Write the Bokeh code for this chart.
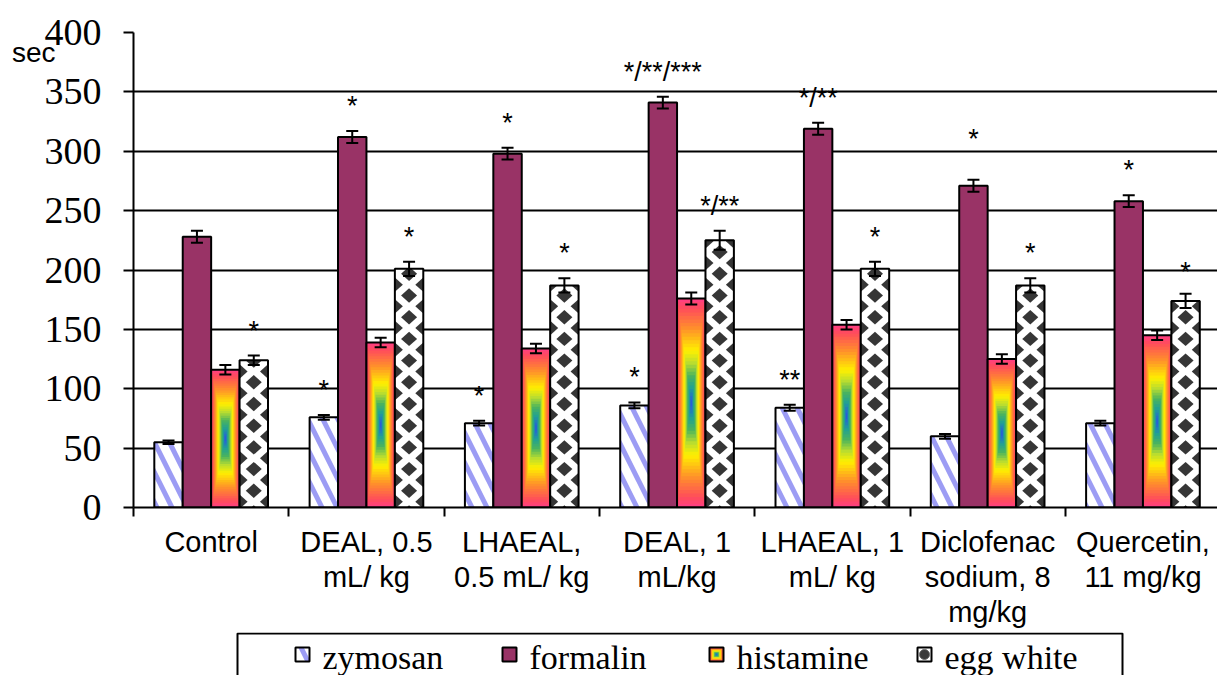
import numpy as np
from bokeh.plotting import figure
from bokeh.layouts import column
from bokeh.models import (ColumnDataSource, Range1d, FixedTicker, Whisker, TeeHead, LinearAxis)
from bokeh.core.properties import value
from bokeh.embed import file_html
from bokeh.resources import INLINE

# ---------------- data ----------------
categories = ["Control", "DEAL, 0.5\nmL/ kg", "LHAEAL,\n0.5 mL/ kg", "DEAL, 1\nmL/kg",
              "LHAEAL, 1\nmL/ kg", "Diclofenac\nsodium, 8\nmg/kg", "Quercetin,\n11 mg/kg"]
series_names = ["zymosan", "formalin", "histamine", "egg white"]
zymosan = [55, 76, 71, 86, 84, 60, 71]
formalin = [228, 312, 298, 341, 319, 271, 258]
histamine = [116, 139, 134, 176, 154, 125, 145]
egg_white = [124, 201, 187, 225, 201, 187, 174]
zymosan_err = [1.5, 2, 2, 2.5, 2.5, 2, 2]
formalin_err = [5, 5, 5, 5, 5, 5, 5]
histamine_err = [4, 4, 4, 5, 4, 4, 4]
egg_white_err = [4, 6, 6, 8, 6, 6, 6]
zymosan_sig = ["", "*", "*", "*", "**", "", ""]
formalin_sig = ["", "*", "*", "*/**/***", "*/**", "*", "*"]
histamine_sig = ["", "", "", "", "", "", ""]
egg_white_sig = ["*", "*", "*", "*/**", "*", "*", "*"]
y_ticks = [0, 50, 100, 150, 200, 250, 300, 350, 400]
y_unit = "sec"

# ---------------- style / layout constants ----------------
W, H_MAIN, H_LEG = 1217, 632, 43
LEFT, TOP, BOTTOM = 133, 32, 125
CAT_PX = 155.3
PX_X = CAT_PX
PX_Y = (H_MAIN - TOP - BOTTOM) / 400.0
n = len(categories)
BW = 0.183
centers = np.arange(n) + 0.5
offsets = [-1.5 * BW, -0.5 * BW, 0.5 * BW, 1.5 * BW]
values = [zymosan, formalin, histamine, egg_white]
errs = [zymosan_err, formalin_err, histamine_err, egg_white_err]
sigs = [zymosan_sig, formalin_sig, histamine_sig, egg_white_sig]
xs = [list(centers + o) for o in offsets]
SIG_GAP = 21          # gap (y units) between error-bar top and mark
SIG_EXTRA = {(1, 5): 13, (3, 6): -3}   # hand-placed marks in the original (series, category)

FORMALIN_C = "#993366"
ZYM_HATCH = dict(hatch_pattern="\\", hatch_color="#9c9cf4", hatch_scale=30, hatch_weight=5)
EGG_DOT = "#363636"

# rectangular "from centre" gradient used for histamine
stop_t = [0.0, 0.10, 0.30, 0.50, 0.62, 0.74, 0.86, 1.0]
stop_c = ["#ff3d86", "#ff4d5a", "#ff9428", "#fff000", "#b8dc30", "#4cb45c", "#1fa096", "#2a50e8"]


def _rgb(h):
    return np.array([int(h[i:i + 2], 16) for i in (1, 3, 5)], dtype=float)


def grad_color(t):
    for j in range(len(stop_t) - 1):
        if stop_t[j] <= t <= stop_t[j + 1]:
            f = (t - stop_t[j]) / (stop_t[j + 1] - stop_t[j])
            c = _rgb(stop_c[j]) * (1 - f) + _rgb(stop_c[j + 1]) * f
            return "#%02x%02x%02x" % tuple(int(round(v)) for v in c)
    return stop_c[-1]


NL = 30


def gradient_quads(rects):
    """rects: list of (x0, x1, y0, y1); returns nested quads, outer first."""
    out = dict(l=[], r=[], t=[], b=[], c=[])
    for k in range(NL):
        t = k / NL
        col = grad_color(t + 0.5 / NL)
        for (x0, x1, y0, y1) in rects:
            dx = (x1 - x0) / 2 * t
            dy = (y1 - y0) / 2 * t
            out["l"].append(x0 + dx)
            out["r"].append(x1 - dx)
            out["b"].append(y0 + dy)
            out["t"].append(y1 - dy)
            out["c"].append(col)
    return out


def _clip_edge(pts, axis, bound, keep_greater):
    out = []
    m = len(pts)
    for i in range(m):
        cur, prev = pts[i], pts[i - 1]
        cin = cur[axis] >= bound if keep_greater else cur[axis] <= bound
        pin = prev[axis] >= bound if keep_greater else prev[axis] <= bound
        if cin != pin:
            tt = (bound - prev[axis]) / (cur[axis] - prev[axis])
            out.append((prev[0] + tt * (cur[0] - prev[0]), prev[1] + tt * (cur[1] - prev[1])))
        if cin:
            out.append(cur)
    return out


def clip_rect(pts, x0, x1, y0, y1):
    for axis, bound, kg in ((0, x0, True), (0, x1, False), (1, y0, True), (1, y1, False)):
        pts = _clip_edge(pts, axis, bound, kg)
        if not pts:
            return []
    return pts


# ---------------- main figure ----------------
p = figure(width=W, height=H_MAIN, x_range=Range1d(0, (W - LEFT) / CAT_PX), y_range=Range1d(0, 400),
           output_backend="svg", toolbar_location=None, title=None,
           min_border_left=LEFT, min_border_right=0, min_border_top=TOP, min_border_bottom=BOTTOM)
p.outline_line_color = None
p.xgrid.visible = False
p.ygrid.ticker = FixedTicker(ticks=y_ticks)
p.ygrid.grid_line_color = "black"
p.ygrid.grid_line_width = 2

p.yaxis.ticker = FixedTicker(ticks=y_ticks)
p.yaxis.major_label_text_font = "Liberation Serif"
p.yaxis.major_label_text_font_size = "38px"
p.yaxis.major_label_text_color = "black"
p.yaxis.major_tick_out = 10
p.yaxis.major_tick_in = 0
p.yaxis.major_tick_line_width = 2
p.yaxis.minor_tick_line_color = None
p.yaxis.axis_line_width = 2
p.yaxis.major_label_standoff = 22

p.xaxis.ticker = FixedTicker(ticks=[float(c) for c in centers], minor_ticks=list(range(n + 1)))
p.xaxis.major_label_overrides = {float(c): lab for c, lab in zip(centers, categories)}
p.xaxis.major_tick_line_color = None
p.xaxis.major_tick_out = 0
p.xaxis.major_tick_in = 0
p.xaxis.minor_tick_line_color = "black"
p.xaxis.minor_tick_line_width = 2
p.xaxis.minor_tick_out = 9
p.xaxis.minor_tick_in = 0
p.xaxis.axis_line_width = 2
p.xaxis.major_label_text_font = "Liberation Sans"
p.xaxis.major_label_text_font_size = "29px"
p.xaxis.major_label_text_line_height = 1.1
p.xaxis.major_label_text_color = "black"
p.xaxis.major_label_standoff = 9

# unit label "sec" as an extra (tick-only) axis on the left
sec_tick = 383
sec_axis = LinearAxis(ticker=FixedTicker(ticks=[sec_tick]), major_label_overrides={sec_tick: y_unit},
                      axis_line_color=None, major_tick_line_color=None, minor_tick_line_color=None,
                      major_tick_out=0, major_tick_in=0, major_label_standoff=-14,
                      major_label_text_font="Liberation Sans", major_label_text_font_size="28px",
                      major_label_text_color="black")
p.add_layout(sec_axis, "left")

# zymosan
p.vbar(x=xs[0], top=zymosan, width=BW, bottom=0, fill_color="white",
       line_color="black", line_width=2, **ZYM_HATCH)

# formalin
p.vbar(x=xs[1], top=formalin, width=BW, bottom=0, fill_color=FORMALIN_C,
       line_color="black", line_width=2)

# histamine gradient
hq = gradient_quads([(xs[2][i] - BW / 2, xs[2][i] + BW / 2, 0, histamine[i]) for i in range(n)])
p.quad(left="l", right="r", top="t", bottom="b", fill_color="c", line_color=None,
       source=ColumnDataSource(hq))
p.vbar(x=xs[2], top=histamine, width=BW, bottom=0, fill_color=None,
       line_color="black", line_width=2)

# egg white: white bars with staggered dark diamonds clipped to each bar
p.vbar(x=xs[3], top=egg_white, width=BW, bottom=0, fill_color="white", line_color=None)
hx, hy = 8.0 / PX_X, 7.2 / PX_Y
row0, period = 14.07, 21.7 / PX_Y
dxs, dys = [], []
for i in range(n):
    xc = xs[3][i]
    x0, x1 = xc - BW / 2, xc + BW / 2
    top = egg_white[i]
    for cx, phase in ((xc, 0.0), (x0, 0.5), (x1, 0.5)):
        k = -1
        while True:
            cy = row0 + (k + phase) * period
            if cy - hy > top:
                break
            dia = [(cx, cy - hy), (cx + hx, cy), (cx, cy + hy), (cx - hx, cy)]
            cl = clip_rect(dia, x0, x1, 0, top)
            if len(cl) >= 3:
                dxs.append([q[0] for q in cl])
                dys.append([q[1] for q in cl])
            k += 1
p.patches(xs=dxs, ys=dys, fill_color=EGG_DOT, line_color=None)
p.vbar(x=xs[3], top=egg_white, width=BW, bottom=0, fill_color=None,
       line_color="black", line_width=2)

# error bars
wb, wu, wl = [], [], []
for s in range(4):
    for i in range(n):
        wb.append(xs[s][i])
        wu.append(values[s][i] + errs[s][i])
        wl.append(values[s][i] - errs[s][i])
wh = Whisker(source=ColumnDataSource(dict(base=wb, upper=wu, lower=wl)), base="base",
             upper="upper", lower="lower", line_color="black", line_width=2, level="overlay",
             upper_head=TeeHead(size=12, line_width=2, line_color="black"),
             lower_head=TeeHead(size=12, line_width=2, line_color="black"))
p.add_layout(wh)

# significance marks
tx, ty, tt = [], [], []
for s in range(4):
    for i in range(n):
        if sigs[s][i]:
            tx.append(xs[s][i])
            ty.append(values[s][i] + errs[s][i] + SIG_GAP + SIG_EXTRA.get((s, i), 0))
            tt.append(sigs[s][i])
p.text(x=tx, y=ty, text=tt, text_font=value("Liberation Sans"), text_font_size="27px",
       text_align="center", text_baseline="alphabetic", text_color="black")

# ---------------- legend strip (drawn as its own small figure) ----------------
lg = figure(width=W, height=H_LEG, x_range=Range1d(LEFT, W), y_range=Range1d(H_LEG, 0),
            output_backend="svg", toolbar_location=None, title=None,
            x_axis_type=None, y_axis_type=None,
            min_border_left=LEFT, min_border_right=0, min_border_top=0, min_border_bottom=0)
lg.outline_line_color = None
lg.grid.visible = False

box_l, box_r, box_t = 237, 1122, 1
icon_x = [295, 502, 709, 917]
icon_w, icon_t, icon_b = 14, 15, 29
label_gap, label_base = 13, 25

lg.quad(left=[box_l], right=[box_r], top=[box_t], bottom=[H_LEG + 40], fill_color="white",
        line_color="black", line_width=2)
# zymosan icon
lg.quad(left=[icon_x[0]], right=[icon_x[0] + icon_w], top=[icon_t], bottom=[icon_b],
        fill_color="white", line_color="black", line_width=2, **ZYM_HATCH)
# formalin icon
lg.quad(left=[icon_x[1]], right=[icon_x[1] + icon_w], top=[icon_t], bottom=[icon_b],
        fill_color=FORMALIN_C, line_color="black", line_width=2)
# histamine icon
lq = gradient_quads([(icon_x[2], icon_x[2] + icon_w, icon_t, icon_b)])
lg.quad(left="l", right="r", top="t", bottom="b", fill_color="c", line_color=None,
        source=ColumnDataSource(lq))
lg.quad(left=[icon_x[2]], right=[icon_x[2] + icon_w], top=[icon_t], bottom=[icon_b],
        fill_color=None, line_color="black", line_width=2)
# egg white icon
lg.quad(left=[icon_x[3]], right=[icon_x[3] + icon_w], top=[icon_t], bottom=[icon_b],
        fill_color="white", line_color="black", line_width=2)
lg.scatter(x=[icon_x[3] + icon_w / 2], y=[(icon_t + icon_b) / 2], marker="circle", size=10,
           fill_color="#3a3a3a", line_color="#6a6a6a", line_width=1)
lg.text(x=[xx + icon_w + label_gap for xx in icon_x], y=[label_base] * 4, text=series_names,
        text_font=value("Liberation Serif"), text_font_size="34px", text_align="left",
        text_baseline="alphabetic", text_color="black")

layout = column(p, lg, spacing=0)
open("out.html", "w").write(file_html(layout, INLINE))
